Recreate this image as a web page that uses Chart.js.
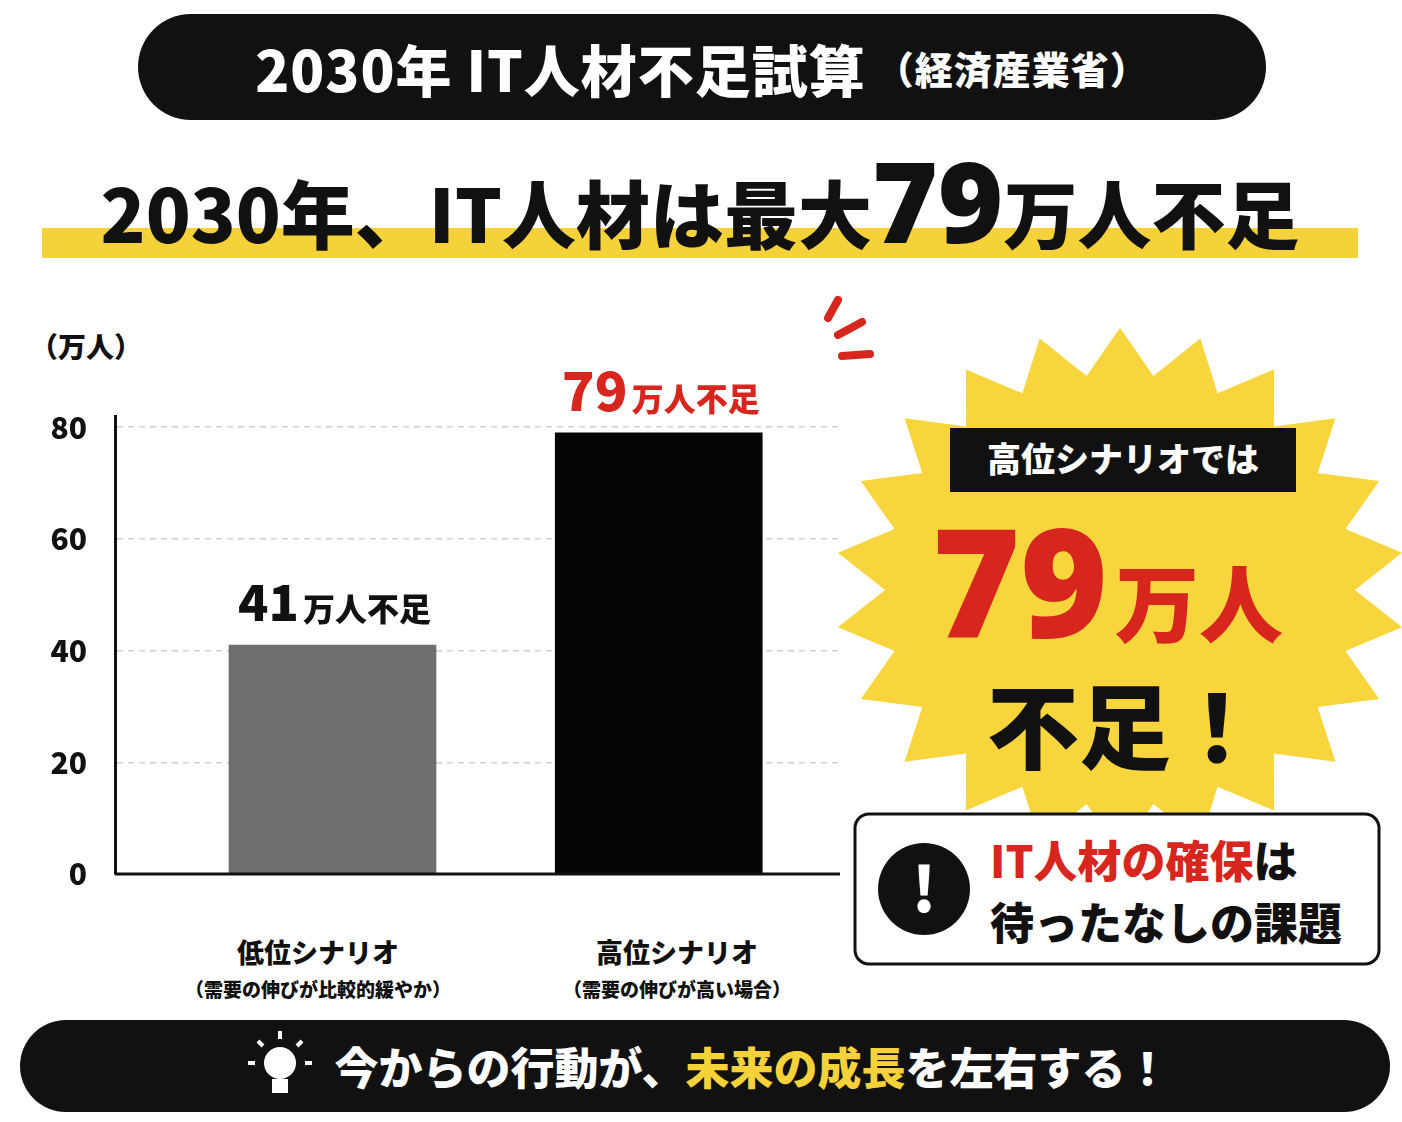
<!DOCTYPE html>
<html><head><meta charset="utf-8">
<script src="https://cdn.jsdelivr.net/npm/chart.js@4"></script>
<style>
body{margin:0;width:1402px;height:1122px;background:#fff;position:relative;overflow:hidden;font-family:"Noto Sans CJK JP","Noto Sans",sans-serif;font-weight:900;color:#111}
.abs{position:absolute}
#title{left:138px;top:14px;width:1128px;height:106px;background:#111;border-radius:53px;color:#fff;display:flex;align-items:center;justify-content:center;font-size:56px;letter-spacing:1px}
#title small{font-size:38px;margin-left:10px}
#sub{left:30px;top:130px;width:1340px;text-align:center;font-size:74px;line-height:140px;letter-spacing:0px;white-space:nowrap}
#uline{left:42px;top:228px;width:1316px;height:30px;background:#f6d23a}
#unit{left:30px;top:326px;font-size:28px}
#cw{left:0;top:370px;width:840px;height:550px}
.cat{text-align:center;width:360px;font-size:27px}
.cat div{font-size:19px;margin-top:4px}
#bottom{left:20px;top:1020px;width:1370px;height:92px;background:#111;border-radius:46px;color:#fff;display:flex;align-items:center;justify-content:center;font-size:44px}
#bottom span{color:#f6d23a}
</style></head><body>
<div id="title" class="abs">2030年 IT人材不足試算<small>（経済産業省）</small></div>
<div id="uline" class="abs"></div>
<div id="sub" class="abs">2030年、IT人材は最大<span style="font-size:112px;font-family:'Noto Sans'">79</span>万人不足</div>
<div id="unit" class="abs">（万人）</div>
<svg class="abs" style="left:0;top:0" width="1402" height="1122">
 <polygon id="star" fill="#f8d53c"/>
 <g stroke="#d7261e" stroke-width="8" stroke-linecap="round">
  <line x1="828" y1="318" x2="838" y2="300"/><line x1="838" y1="335" x2="862" y2="322"/><line x1="842" y1="356" x2="870" y2="354"/>
 </g>
 <rect x="950" y="428" width="346" height="64" fill="#111"/>
 <text x="1123" y="472" fill="#fff" font-size="34" text-anchor="middle" font-weight="900">高位シナリオでは</text>
 <text x="1108" y="638" fill="#d7261e" font-size="150" text-anchor="end" font-weight="900" font-family="Noto Sans">79</text>
 <text x="1115" y="636" fill="#d7261e" font-size="84" font-weight="900">万人</text>
 <text x="1125" y="762" fill="#111" font-size="92" text-anchor="middle" font-weight="900">不足！</text>
 <rect x="855" y="814" width="524" height="150" rx="14" fill="#fff" stroke="#111" stroke-width="3"/>
 <circle cx="924" cy="889" r="46" fill="#111"/>
 <text x="924" y="912" fill="#fff" font-size="62" text-anchor="middle" font-weight="900">!</text>
 <text x="990" y="878" fill="#d7261e" font-size="44" font-weight="900">IT人材の確保<tspan fill="#111">は</tspan></text>
 <text x="990" y="940" fill="#111" font-size="44" font-weight="900">待ったなしの課題</text>
</svg>
<div id="cw" class="abs"><canvas id="c" width="840" height="550"></canvas></div>
<div class="abs cat" style="left:138px;top:932px">低位シナリオ<div>（需要の伸びが比較的緩やか）</div></div>
<div class="abs cat" style="left:497px;top:932px">高位シナリオ<div>（需要の伸びが高い場合）</div></div>
<div id="bottom" class="abs"><svg width="80" height="80" style="margin-right:14px" viewBox="-40 -45 80 80">
  <circle cx="0" cy="-8" r="16" fill="#fff"/><rect x="-8" y="8" width="16" height="14" fill="#fff"/>
  <g stroke="#fff" stroke-width="4"><line x1="-32" y1="-8" x2="-25" y2="-8"/><line x1="25" y1="-8" x2="32" y2="-8"/><line x1="0" y1="-40" x2="0" y2="-32"/><line x1="-22" y1="-30" x2="-17" y2="-25"/><line x1="22" y1="-30" x2="17" y2="-25"/></g>
 </svg>今からの行動が、<span>未来の成長</span>を左右する！</div>
<script>
(function(){const cx=1120,cy=590,n=22,ro=285,ri=235;let p=[];for(let i=0;i<2*n;i++){const a=Math.PI*i/n-Math.PI/2,r=i%2?ri:ro;p.push((cx+r*Math.cos(a)).toFixed(1)+','+(cy+r*Math.sin(a)*0.92).toFixed(1));}document.getElementById('star').setAttribute('points',p.join(' '));})();

const categories=['低位シナリオ','高位シナリオ'];
const values=[41,79];
const positions=[0.28,0.775];
const barColors=['#6f6f6f','#050505'];
const labelColors=['#111','#d7261e'];
const yTicks=[0,20,40,60,80];

const labelPlugin={id:'lbl',afterDatasetsDraw(ch){const ctx=ch.ctx;const meta=ch.getDatasetMeta(0);
 const ys=ch.scales.y,a=ch.chartArea;
 ctx.save();ctx.strokeStyle='#111';ctx.lineWidth=3;ctx.beginPath();ctx.moveTo(a.left,ys.getPixelForValue(0));ctx.lineTo(a.right,ys.getPixelForValue(0));ctx.stroke();ctx.restore();
 meta.data.forEach((b,i)=>{ctx.save();ctx.fillStyle=labelColors[i];ctx.textBaseline='alphabetic';
  const big='900 '+(i?54:50)+'px "Noto Sans CJK JP"',sm='900 32px "Noto Sans CJK JP"';
  const num=String(values[i]),rest='万人不足';ctx.font=big;const w1=ctx.measureText(num).width;ctx.font=sm;const w2=ctx.measureText(rest).width;
  let x=b.x-(w1+w2)/2,y=b.y-(i?22:24);ctx.font=big;ctx.fillText(num,x,y);ctx.font=sm;ctx.fillText(rest,x+w1+4,y);ctx.restore();});}};

new Chart(document.getElementById('c'),{type:'bar',
 data:{datasets:[{data:values.map((v,i)=>({x:positions[i],y:v})),backgroundColor:barColors,barThickness:207}]},
 options:{responsive:false,animation:false,layout:{padding:{top:15,right:0,bottom:2,left:0}},
  plugins:{legend:{display:false},tooltip:{enabled:false}},
  scales:{x:{type:'linear',min:0,max:1,display:false},
   y:{min:0,max:82,afterBuildTicks:s=>{s.ticks=yTicks.map(v=>({value:v}))},afterFit:s=>{s.width=115},
    border:{display:true,color:'#111',width:3,dash:[6,5]},
    grid:{color:'#cfcfcf',lineWidth:1.5,drawTicks:false},
    ticks:{padding:28,color:'#111',font:{size:30,weight:'900',family:'"Noto Sans CJK JP"'}}}}},
 plugins:[labelPlugin]});
</script>
</body></html>
